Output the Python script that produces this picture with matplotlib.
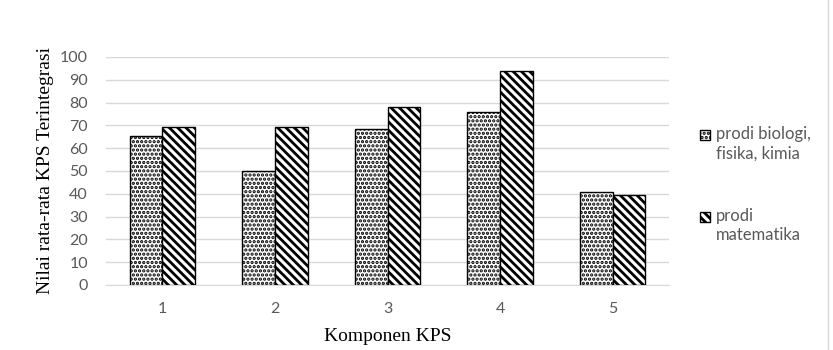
import numpy as np
import matplotlib
matplotlib.use('Agg')
import matplotlib.pyplot as plt
from matplotlib.patches import Rectangle
from matplotlib.lines import Line2D

# data
komponen = ['1', '2', '3', '4', '5']
bio_fis_kim = [65.5, 50.0, 68.4, 75.9, 40.6]
matematika = [69.4, 69.4, 77.9, 93.9, 39.3]
labels = ['prodi biologi,\nfisika, kimia', 'prodi\nmatematika']
hatches = ['....', '\\\\\\\\']
hatch_lw = [1.6, 2.0]

plt.rcParams['hatch.color'] = 'black'

grey_txt = '#595959'
fig = plt.figure(figsize=(8.33, 3.5), dpi=100)
ax = fig.add_axes([106/833, 65/350, (669-106)/833, 228/350])

x = np.arange(len(komponen))
w = 0.29
plt.rcParams['hatch.linewidth'] = hatch_lw[0]
ax.bar(x - w/2, bio_fis_kim, w, color='white', edgecolor='black',
       linewidth=1.0, hatch=hatches[0], zorder=3)
plt.rcParams['hatch.linewidth'] = hatch_lw[1]
ax.bar(x + w/2, matematika, w, color='white', edgecolor='black',
       linewidth=1.0, hatch=hatches[1], zorder=3)

ax.set_xlim(-0.5, len(komponen) - 0.5)
ax.set_ylim(0, 100)
ax.set_yticks(np.arange(0, 101, 10))
ax.set_xticks(x)
ax.set_xticklabels(komponen)
ax.yaxis.grid(True, color='#d9d9d9', linewidth=1.0, zorder=0)
ax.set_axisbelow(True)
for s in ['top', 'right', 'left']:
    ax.spines[s].set_visible(False)
ax.spines['bottom'].set_color('#d9d9d9')
ax.tick_params(axis='both', length=0, labelsize=11.5, labelcolor=grey_txt)
ax.tick_params(axis='x', pad=12)
ax.tick_params(axis='y', pad=13)
for lab in ax.get_xticklabels() + ax.get_yticklabels():
    lab.set_family('Lato')

ax.set_xlabel('Komponen KPS', family='Liberation Serif', fontsize=14, labelpad=9)
ax.set_ylabel('Nilai rata-rata KPS Terintegrasi', family='Liberation Serif',
              fontsize=14, labelpad=4)

# legend drawn by hand so the marker sits on the first line
leg_y = [135, 217]
for i in range(2):
    yy = 1 - leg_y[i]/350
    plt.rcParams['hatch.linewidth'] = hatch_lw[i]
    fig.add_artist(Rectangle((700/833, yy - 5/350), 10/833, 10/350,
                             transform=fig.transFigure, facecolor='white',
                             edgecolor='black', linewidth=1.0, hatch=hatches[i]))
    fig.text(716/833, yy + 9/350, labels[i], family='Lato', fontsize=12,
             color=grey_txt, va='top', ha='left', linespacing=1.25)

fig.add_artist(Line2D([828/833, 828/833], [0, 1], transform=fig.transFigure,
                      color='#d9d9d9', linewidth=1.0))

fig.savefig('out.png', dpi=100)
